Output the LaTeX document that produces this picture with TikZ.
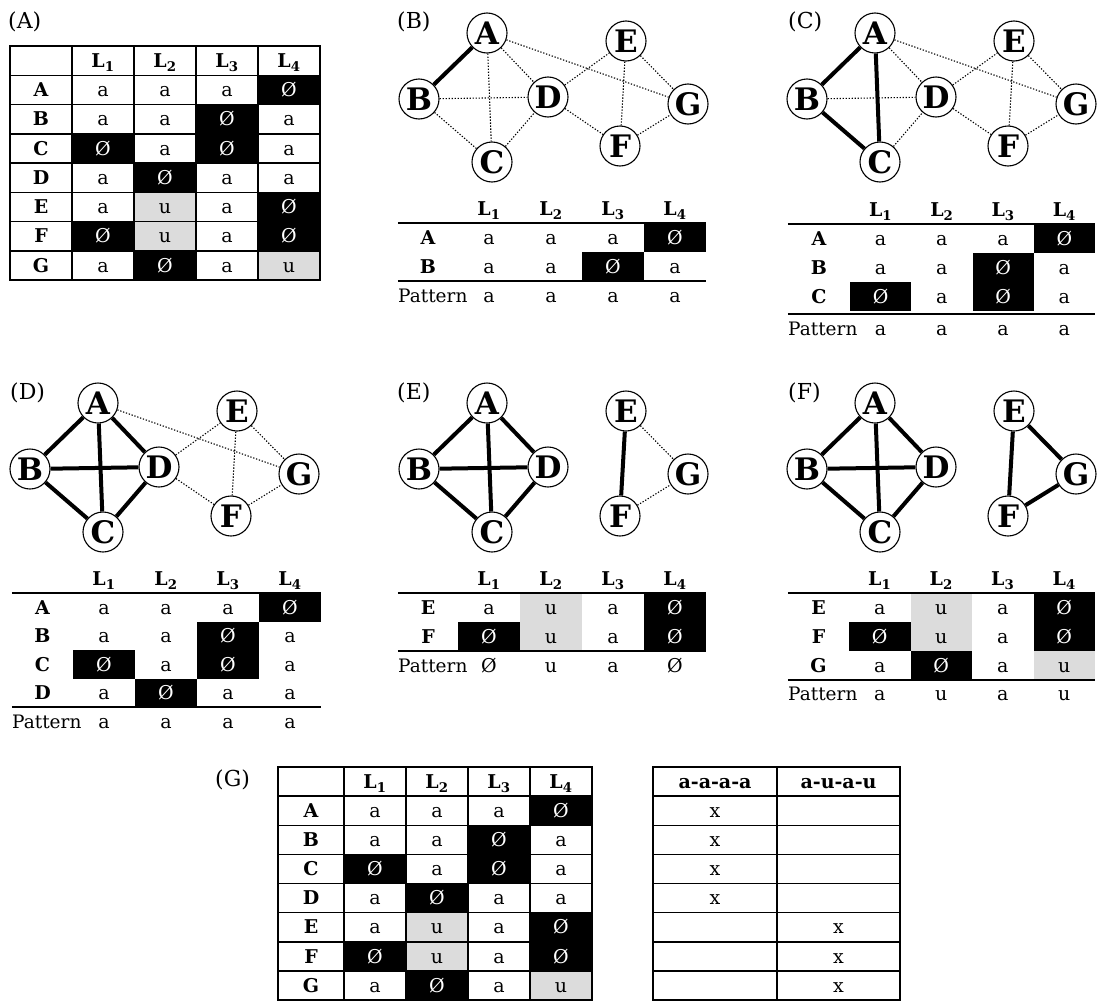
\documentclass[tikz,border=0pt]{standalone}
\usepackage{fontspec}
\setmainfont{DejaVu Serif}
\definecolor{ugray}{HTML}{DCDCDC}
\newcommand\fs[1]{\fontsize{#1}{#1}\selectfont}
\tikzset{
  vtx/.style={circle, draw, line width=1.1pt, fill=white, minimum size=40pt, inner sep=0pt, font=\fs{31}\bfseries},
  strong/.style={line width=4pt},
  weak/.style={line width=1.1pt, dash pattern=on 1.3pt off 1.7pt},
  plabel/.style={anchor=west, inner sep=0pt, font=\fs{22}},
  tcell/.style={},
  cellbase/.style={rectangle, inner sep=0pt, text height=13.5pt, text depth=0pt, font=\fs{19}, tcell},
  rowlab/.style={font=\fs{19}\bfseries},
  cella/.style={}, cellu/.style={fill=ugray}, celln/.style={fill=black, text=white},
  cellx/.style={}, cello/.style={},
  cellh1/.style={}, cellh2/.style={}, cellh3/.style={}, cellh4/.style={},
  patlab/.style={anchor=base west, inner sep=0pt, font=\fs{18.5}},
  patcell/.style={anchor=base, inner sep=0pt, font=\fs{19}},
  rule/.style={line width=2pt},
}
\def\syma{a}\def\symu{u}\def\symn{Ø}\def\symx{x}\def\symo{}
\def\symhA{\textbf{a-a-a-a}}\def\symhB{\textbf{a-u-a-u}}
\expandafter\def\csname symh1\endcsname{\textbf{L\textsubscript{1}}}
\expandafter\def\csname symh2\endcsname{\textbf{L\textsubscript{2}}}
\expandafter\def\csname symh3\endcsname{\textbf{L\textsubscript{3}}}
\expandafter\def\csname symh4\endcsname{\textbf{L\textsubscript{4}}}
% #1 prefix, #2 label-col left x, #3 label-col width, #4 data-col width, #5 row top y, #6 row height, #7 label, #8 values
\newcommand\mkrow[8]{%
  \node[cellbase, rowlab, minimum width=#3pt, minimum height=#6pt] (#1L) at ({#2+#3/2},{#5+#6/2}) {#7};
  \foreach \v [count=\i] in {#8} {
    \node[cellbase, cell\v, minimum width=#4pt, minimum height=#6pt] (#1c\i) at ({#2+#3+(\i-0.5)*#4},{#5+#6/2}) {\csname sym\v\endcsname};
  }%
}
% #1 prefix, #2 label x, #3 data x0, #4 data width, #5 baseline y, #6 values
\newcommand\mkpat[6]{%
  \node[patlab] (#1P) at (#2,#5) {Pattern};
  \foreach \v [count=\i] in {#6} {
    \node[patcell] (#1p\i) at ({#3+(\i-0.5)*#4},#5) {\csname sym\v\endcsname};
  }%
}
\newcommand\graphnodes[1]{%
  \node[vtx] (#1A) at (0,0) {A};
  \node[vtx] (#1B) at (-68,66) {B};
  \node[vtx] (#1C) at (5,129) {C};
  \node[vtx] (#1D) at (61,64) {D};
  \node[vtx] (#1E) at (139,8) {E};
  \node[vtx] (#1F) at (133,113) {F};
  \node[vtx] (#1G) at (201,71) {G};
}
\begin{document}
\begin{tikzpicture}[x=1pt, y=-1pt]
\useasboundingbox (0,0) rectangle (1097,1001);

% ---------------- (A)
\node[plabel] (labA) at (8,22) {(A)};
\begin{scope}[tcell/.style={draw, line width=1.5pt}]
\mkrow{aH}{10}{62}{62}{46}{29.25}{}{h1,h2,h3,h4}
\mkrow{aA}{10}{62}{62}{75.25}{29.25}{A}{a,a,a,n}
\mkrow{aB}{10}{62}{62}{104.5}{29.25}{B}{a,a,n,a}
\mkrow{aC}{10}{62}{62}{133.75}{29.25}{C}{n,a,n,a}
\mkrow{aD}{10}{62}{62}{163}{29.25}{D}{a,n,a,a}
\mkrow{aE}{10}{62}{62}{192.25}{29.25}{E}{a,u,a,n}
\mkrow{aF}{10}{62}{62}{221.5}{29.25}{F}{n,u,a,n}
\mkrow{aG}{10}{62}{62}{250.75}{29.25}{G}{a,n,a,u}
\end{scope}

% ---------------- (B)
\node[plabel] (labB) at (397,22) {(B)};
\begin{scope}[shift={(487,33)}]\graphnodes{b}\end{scope}
\foreach \u/\w in {A/C,A/D,A/G,B/C,B/D,C/D,D/E,D/F,E/F,E/G,F/G} \draw[weak] (b\u) -- (b\w);
\foreach \u/\w in {A/B} \draw[strong] (b\u) -- (b\w);
\mkrow{bH}{398}{60}{62}{194}{29}{}{h1,h2,h3,h4}
\mkrow{bA}{398}{60}{62}{223}{29}{A}{a,a,a,n}
\mkrow{bB}{398}{60}{62}{252}{29}{B}{a,a,n,a}
\draw[rule] (bAL.north west) -- (bAc4.north east);
\draw[rule] (bBL.south west) -- (bBc4.south east);
\mkpat{b}{398}{458}{62}{302}{a,a,a,a}

% ---------------- (C)
\node[plabel] (labC) at (788,22) {(C)};
\begin{scope}[shift={(875,33)}]\graphnodes{c}\end{scope}
\foreach \u/\w in {A/D,A/G,B/D,C/D,D/E,D/F,E/F,E/G,F/G} \draw[weak] (c\u) -- (c\w);
\foreach \u/\w in {A/B,A/C,B/C} \draw[strong] (c\u) -- (c\w);
\mkrow{cH}{788}{62}{61.25}{195}{29}{}{h1,h2,h3,h4}
\mkrow{cA}{788}{62}{61.25}{224}{29}{A}{a,a,a,n}
\mkrow{cB}{788}{62}{61.25}{253}{29}{B}{a,a,n,a}
\mkrow{cC}{788}{62}{61.25}{282}{29}{C}{n,a,n,a}
\draw[rule] (cAL.north west) -- (cAc4.north east);
\draw[rule] ([yshift=-3pt]cCL.south west) -- ([yshift=-3pt]cCc4.south east);
\mkpat{c}{788}{850}{61.25}{335}{a,a,a,a}

% ---------------- (D)
\node[plabel] (labD) at (10,393) {(D)};
\begin{scope}[shift={(98,403)}]\graphnodes{d}\end{scope}
\foreach \u/\w in {A/G,D/E,D/F,E/F,E/G,F/G} \draw[weak] (d\u) -- (d\w);
\foreach \u/\w in {A/B,A/C,A/D,B/C,B/D,C/D} \draw[strong] (d\u) -- (d\w);
\mkrow{dH}{12}{61}{62}{564.5}{28.5}{}{h1,h2,h3,h4}
\mkrow{dA}{12}{61}{62}{593}{28.5}{A}{a,a,a,n}
\mkrow{dB}{12}{61}{62}{621.5}{28.5}{B}{a,a,n,a}
\mkrow{dC}{12}{61}{62}{650}{28.5}{C}{n,a,n,a}
\mkrow{dD}{12}{61}{62}{678.5}{28.5}{D}{a,n,a,a}
\draw[rule] (dAL.north west) -- (dAc4.north east);
\draw[rule] (dDL.south west) -- (dDc4.south east);
\mkpat{d}{12}{73}{62}{728}{a,a,a,a}

% ---------------- (E)
\node[plabel] (labE) at (397,393) {(E)};
\begin{scope}[shift={(487,403)}]\graphnodes{e}\end{scope}
\foreach \u/\w in {E/G,F/G} \draw[weak] (e\u) -- (e\w);
\foreach \u/\w in {A/B,A/C,A/D,B/C,B/D,C/D,E/F} \draw[strong] (e\u) -- (e\w);
\mkrow{eH}{398}{60}{62}{564}{29}{}{h1,h2,h3,h4}
\mkrow{eE}{398}{60}{62}{593}{29}{E}{a,u,a,n}
\mkrow{eF}{398}{60}{62}{622}{29}{F}{n,u,a,n}
\draw[rule] (eEL.north west) -- (eEc4.north east);
\draw[rule] (eFL.south west) -- (eFc4.south east);
\mkpat{e}{398}{458}{62}{672}{n,u,a,n}

% ---------------- (F)
\node[plabel] (labF) at (788,393) {(F)};
\begin{scope}[shift={(875,403)}]\graphnodes{f}\end{scope}
\foreach \u/\w in {A/B,A/C,A/D,B/C,B/D,C/D,E/F,E/G,F/G} \draw[strong] (f\u) -- (f\w);
\mkrow{fH}{788}{61}{61.5}{564}{29}{}{h1,h2,h3,h4}
\mkrow{fE}{788}{61}{61.5}{593}{29}{E}{a,u,a,n}
\mkrow{fF}{788}{61}{61.5}{622}{29}{F}{n,u,a,n}
\mkrow{fG}{788}{61}{61.5}{651}{29}{G}{a,n,a,u}
\draw[rule] (fEL.north west) -- (fEc4.north east);
\draw[rule] (fGL.south west) -- (fGc4.south east);
\mkpat{f}{788}{849}{61.5}{700}{a,u,a,u}

% ---------------- (G)
\node[plabel] (labG) at (215,780) {(G)};
\begin{scope}[tcell/.style={draw, line width=1.5pt}]
\mkrow{gH}{278}{66}{62}{767}{29.125}{}{h1,h2,h3,h4}
\mkrow{gA}{278}{66}{62}{796.125}{29.125}{A}{a,a,a,n}
\mkrow{gB}{278}{66}{62}{825.25}{29.125}{B}{a,a,n,a}
\mkrow{gC}{278}{66}{62}{854.375}{29.125}{C}{n,a,n,a}
\mkrow{gD}{278}{66}{62}{883.5}{29.125}{D}{a,n,a,a}
\mkrow{gE}{278}{66}{62}{912.625}{29.125}{E}{a,u,a,n}
\mkrow{gF}{278}{66}{62}{941.75}{29.125}{F}{n,u,a,n}
\mkrow{gG}{278}{66}{62}{970.875}{29.125}{G}{a,n,a,u}
\foreach \p/\q [count=\r from 0] in {hA/hB,x/o,x/o,x/o,x/o,o/x,o/x,o/x} {
  \node[cellbase, minimum width=124pt, minimum height=29.125pt] (gR\r-a) at (715,{767+(\r+0.5)*29.125}) {\csname sym\p\endcsname};
  \node[cellbase, minimum width=123pt, minimum height=29.125pt] (gR\r-b) at (838.5,{767+(\r+0.5)*29.125}) {\csname sym\q\endcsname};
}
\end{scope}
\end{tikzpicture}
\end{document}
